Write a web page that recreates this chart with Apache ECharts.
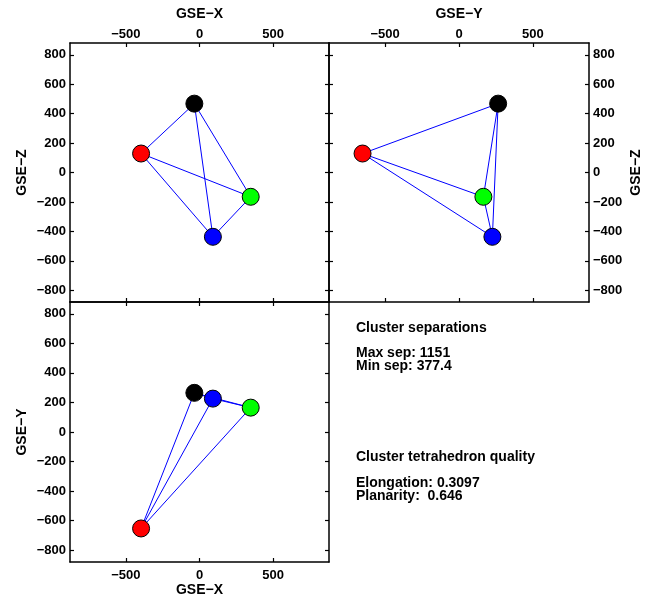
<!DOCTYPE html>
<html>
<head>
<meta charset="utf-8">
<script src="https://cdn.jsdelivr.net/npm/echarts@6/dist/echarts.min.js"></script>
<style>
  html, body { margin: 0; padding: 0; background: #fff; }
  #chart { width: 651px; height: 598px; }
</style>
</head>
<body>
<div id="chart"></div>
<script>
// Cluster spacecraft positions (km, relative to barycentre), order C1..C4
const spacecraft = ['C1', 'C2', 'C3', 'C4'];
const gseX = [-35, -397, 348, 91];
const gseY = [265, -653, 165, 226];
const gseZ = [468, 129, -165, -437];
const markerColors = ['#000000', '#ff0000', '#00ff00', '#0000ff'];

// Axis ticks
const posTicks = [-500, 0, 500];
const coordTicks = [-800, -600, -400, -200, 0, 200, 400, 600, 800];
const axisRange = 880;

// Summary text
const sepTitle = 'Cluster separations';
const maxSep = 1151;
const minSep = 377.4;
const qualTitle = 'Cluster tetrahedron quality';
const elongation = 0.3097;
const planarity = 0.646;

const FONT = '"Liberation Sans", Arial, Helvetica, sans-serif';
const fmt = v => String(v).replace('-', '\u2212');

function axis(kind, gridIndex, position, ticks, showLabels, name, nameGap, labelMargin) {
  const a = {
    type: 'value',
    gridIndex: gridIndex,
    position: position,
    min: -axisRange,
    max: axisRange,
    splitLine: { show: false },
    axisLine: { show: true, onZero: false, lineStyle: { color: '#000', width: 1.5 } },
    axisTick: { show: true, inside: true, length: 4, customValues: ticks,
                lineStyle: { color: '#000', width: 1.2 } },
    axisLabel: { show: showLabels, customValues: ticks, formatter: fmt,
                 margin: labelMargin == null ? 4 : labelMargin,
                 color: '#000', fontFamily: FONT, fontWeight: 'bold', fontSize: 13 }
  };
  if (name) {
    a.name = fmt(name);
    a.nameLocation = 'middle';
    a.nameGap = nameGap;
    if (kind === 'y') a.nameRotate = 90;
    a.nameTextStyle = { color: '#000', fontFamily: FONT, fontWeight: 'bold', fontSize: 14 };
  }
  return a;
}

// Tetrahedron edges: every pair of spacecraft
const edges = [];
for (let i = 0; i < spacecraft.length; i++) {
  for (let j = i + 1; j < spacecraft.length; j++) edges.push([i, j]);
}

function panelSeries(idx, hs, vs) {
  const lines = {
    type: 'lines',
    coordinateSystem: 'cartesian2d',
    xAxisIndex: idx * 2,
    yAxisIndex: idx * 2,
    silent: true,
    lineStyle: { color: '#0000ff', width: 1, opacity: 1 },
    data: edges.map(([i, j]) => ({ coords: [[hs[i], vs[i]], [hs[j], vs[j]]] }))
  };
  const points = {
    type: 'scatter',
    xAxisIndex: idx * 2,
    yAxisIndex: idx * 2,
    symbolSize: 17,
    silent: true,
    z: 3,
    data: spacecraft.map((s, k) => ({
      name: s,
      value: [hs[k], vs[k]],
      itemStyle: { color: markerColors[k], borderColor: '#000', borderWidth: 1, opacity: 1 }
    }))
  };
  return [lines, points];
}

const chart = echarts.init(document.getElementById('chart'), null, { renderer: 'canvas' });

const textStyle = { fill: '#000', font: 'bold 14px ' + FONT, textVerticalAlign: 'middle' };
function label(text, y) {
  return { type: 'text', left: 356, top: y - 8, style: Object.assign({ text: text }, textStyle) };
}

chart.setOption({
  animation: false,
  backgroundColor: '#fff',
  grid: [
    { left: 70, top: 43, width: 259, height: 259 },
    { left: 329, top: 43, width: 260, height: 259 },
    { left: 70, top: 302, width: 259, height: 260 }
  ],
  xAxis: [
    axis('x', 0, 'top', posTicks, true, 'GSE-X', 22, 2),
    axis('x', 0, 'bottom', posTicks, false),
    axis('x', 1, 'top', posTicks, true, 'GSE-Y', 22, 2),
    axis('x', 1, 'bottom', posTicks, false),
    axis('x', 2, 'bottom', posTicks, true, 'GSE-X', 20, 7),
    axis('x', 2, 'top', posTicks, false)
  ],
  yAxis: [
    axis('y', 0, 'left', coordTicks, true, 'GSE-Z', 41),
    axis('y', 0, 'right', coordTicks, false),
    axis('y', 1, 'right', coordTicks, true, 'GSE-Z', 40),
    axis('y', 1, 'left', coordTicks, false),
    axis('y', 2, 'left', coordTicks, true, 'GSE-Y', 41),
    axis('y', 2, 'right', coordTicks, false)
  ],
  series: [].concat(
    panelSeries(0, gseX, gseZ),
    panelSeries(1, gseY, gseZ),
    panelSeries(2, gseX, gseY)
  ),
  graphic: [
    label(sepTitle, 329),
    label('Max sep: ' + maxSep, 354),
    label('Min sep: ' + minSep, 367),
    label(qualTitle, 458),
    label('Elongation: ' + elongation, 484),
    label('Planarity:  ' + planarity, 497)
  ]
});
</script>
</body>
</html>
